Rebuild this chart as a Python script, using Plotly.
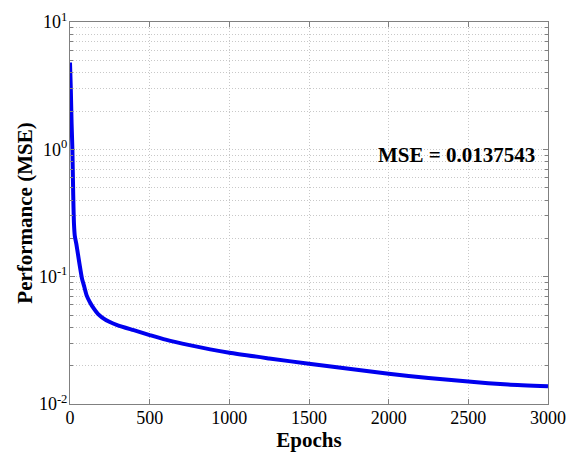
import math

import plotly.graph_objects as go

# training performance curve
epochs = [0, 5, 10, 15, 20, 25, 30, 40, 50, 60, 75, 90, 105, 125, 150, 175, 200,
          250, 300, 400, 500, 600, 750, 1000, 1250, 1500, 1750, 2000, 2250, 2500,
          2750, 3000]
mse = [4.8, 3.0, 1.6, 1.0, 0.45, 0.26, 0.21, 0.18, 0.15, 0.125, 0.097, 0.083,
       0.071, 0.063, 0.056, 0.051, 0.048, 0.044, 0.0415, 0.038, 0.0348, 0.032,
       0.029, 0.0253, 0.0228, 0.0207, 0.0189, 0.0173, 0.016, 0.015, 0.0142,
       0.0137543]

y_tickvals = [0.01, 0.1, 1, 10]
y_ticktext = ["10<sup>-2</sup>", "10<sup>-1</sup>", "10<sup>0</sup>", "10<sup>1</sup>"]
x_tickvals = [0, 500, 1000, 1500, 2000, 2500, 3000]
final_label = "MSE = 0.0137543"

SERIF = "Liberation Serif, Times New Roman, serif"
GRID = "#c8c8c8"
AXIS = "#808080"

fig = go.Figure()
fig.add_trace(go.Scatter(
    x=epochs, y=mse, mode="lines",
    line=dict(color="#0000ee", width=4, shape="spline", smoothing=0.6),
    showlegend=False,
))

# log axis: annotation y is given in log10 units
fig.add_annotation(
    x=2423, y=math.log10(0.9), xref="x", yref="y", text=f"<b>{final_label}</b>",
    showarrow=False, font=dict(family=SERIF, size=21, color="black"),
)

fig.update_layout(
    width=568, height=456,
    margin=dict(l=70, r=20, t=22, b=52),
    plot_bgcolor="white", paper_bgcolor="white",
    font=dict(family=SERIF, size=18, color="black"),
    xaxis=dict(
        range=[0, 3000], tickvals=x_tickvals, automargin=False,
        title=dict(text="<b>Epochs</b>", font=dict(size=21), standoff=0),
        ticklabelstandoff=-3,
        showgrid=True, gridcolor=GRID, griddash="1px,2px", gridwidth=1,
        showline=True, linecolor=AXIS, linewidth=1, mirror="allticks",
        ticks="inside", ticklen=5, tickcolor=AXIS, zeroline=False,
    ),
    yaxis=dict(
        type="log", range=[-2, 1], tickvals=y_tickvals, ticktext=y_ticktext,
        automargin=False,
        title=dict(text="<b>Performance (MSE)</b>", font=dict(size=21), standoff=0),
        ticklabelstandoff=-2,
        showgrid=True, gridcolor=GRID, griddash="1px,2px", gridwidth=1,
        showline=True, linecolor=AXIS, linewidth=1, mirror="allticks",
        ticks="inside", ticklen=5, tickcolor=AXIS, zeroline=False,
        minor=dict(dtick="D1", showgrid=True, gridcolor=GRID, griddash="1px,2px",
                   ticks="inside", ticklen=3, tickcolor=AXIS),
    ),
)

# drop the default 8px body margin so the figure fills the window exactly
fig.write_html("out.html", config={"displayModeBar": False},
               post_script="document.body.style.margin='0';")
